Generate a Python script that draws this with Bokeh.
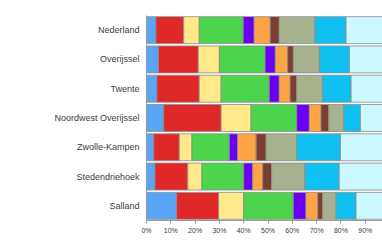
from bokeh.plotting import figure
from bokeh.models import ColumnDataSource, FactorRange, Range1d, FixedTicker, PrintfTickFormatter
from bokeh.embed import file_html
from bokeh.resources import INLINE

regions = ["Nederland", "Overijssel", "Twente", "Noordwest Overijssel",
           "Zwolle-Kampen", "Stedendriehoek", "Salland"]

s1 = [3.9, 4.9, 4.3, 7.1, 3.0, 3.5, 12.4]
s2 = [11.4, 16.4, 17.4, 23.6, 10.5, 13.5, 17.3]
s3 = [6.4, 8.7, 9.0, 12.3, 5.2, 5.8, 10.3]
s4 = [18.1, 18.8, 19.8, 18.8, 15.4, 17.2, 20.4]
s5 = [4.5, 4.2, 4.1, 5.2, 3.4, 3.7, 5.2]
s6 = [6.6, 5.1, 4.5, 4.8, 7.6, 4.1, 4.9]
s7 = [3.7, 2.3, 2.7, 3.2, 4.1, 3.7, 2.0]
s8 = [14.7, 10.7, 10.7, 6.2, 12.6, 13.7, 5.5]
s9 = [12.8, 12.4, 11.7, 6.8, 18.0, 14.1, 8.2]
s10 = [17.9, 16.5, 15.8, 12.0, 20.2, 20.7, 13.8]

series = ["s1", "s2", "s3", "s4", "s5", "s6", "s7", "s8", "s9", "s10"]
colors = ["#5aa5f5", "#e02828", "#ffe98a", "#4cd44c", "#6a00f0",
          "#ffa444", "#7b3f32", "#a6b28e", "#10c0f0", "#ccf8ff"]
xticks = [0, 10, 20, 30, 40, 50, 60, 70, 80, 90]

source = ColumnDataSource(dict(region=regions, s1=s1, s2=s2, s3=s3, s4=s4, s5=s5,
                               s6=s6, s7=s7, s8=s8, s9=s9, s10=s10))

p = figure(width=382, height=240, output_backend="svg", toolbar_location=None,
           y_range=FactorRange(factors=list(reversed(regions)), range_padding=0),
           x_range=Range1d(0, 97.1))
p.min_border_left = 146
p.min_border_right = 0
p.min_border_top = 15
p.min_border_bottom = 20
p.outline_line_color = None
p.background_fill_color = "white"

p.hbar_stack(series, y="region", height=0.92, color=colors, source=source,
             line_color="#8c8c8c", line_width=0.8)

p.xgrid.visible = False
p.ygrid.visible = False

xa = p.xaxis[0]
xa.ticker = FixedTicker(ticks=xticks)
xa.formatter = PrintfTickFormatter(format="%d%%")
xa.axis_line_color = "#9a9a9a"
xa.major_tick_line_color = "#9a9a9a"
xa.major_tick_in = 0
xa.major_tick_out = 3
xa.minor_tick_line_color = None
xa.major_label_standoff = 3
xa.major_label_text_font = "Liberation Sans"
xa.major_label_text_font_size = "7px"
xa.major_label_text_color = "#404040"

ya = p.yaxis[0]
ya.axis_line_color = "#9a9a9a"
ya.major_tick_line_color = None
ya.major_tick_in = 0
ya.major_tick_out = 0
ya.major_label_standoff = 7
ya.major_label_text_font = "Liberation Sans"
ya.major_label_text_font_size = "9px"
ya.major_label_text_color = "#404040"

open("out.html", "w").write(file_html(p, INLINE))
